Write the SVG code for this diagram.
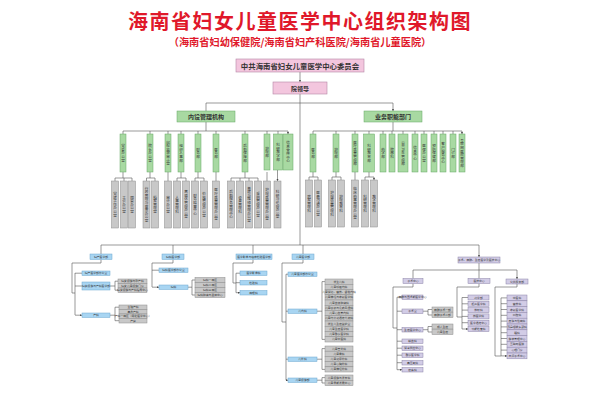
<svg xmlns="http://www.w3.org/2000/svg" width="600" height="400" viewBox="0 0 600 400">
<style>
.c{fill:none;stroke:#555;stroke-width:.6}
.pk{fill:#f3c6de;stroke:#b585a6;stroke-width:.6}
.gr{fill:#a8d9a2;stroke:#66a865;stroke-width:.5}
.gy{fill:#c8c8c8;stroke:#8c8c8c;stroke-width:.5}
.bl{fill:#a8d5f2;stroke:#6ea8cf;stroke-width:.5}
.pu{fill:#d2cce6;stroke:#8b84a8;stroke-width:.5}
text{font-family:"Noto Sans CJK SC","Noto Sans",sans-serif;fill:#333;text-anchor:middle;dominant-baseline:central}
.ti{fill:#e0182a;font-weight:bold;dominant-baseline:auto}
.v{writing-mode:vertical-rl;font-size:3.6px}
.s{font-size:2.8px}
.m{font-size:6px;font-weight:bold}
</style>
<defs>
<marker id="a" viewBox="0 0 6 6" refX="6" refY="3" markerUnits="userSpaceOnUse" markerWidth="2.4" markerHeight="2.4" orient="auto"><path d="M0,0L6,3L0,6z" fill="#444"/></marker>
</defs>
<rect width="600" height="400" fill="#fff"/>
<text class="ti" x="300" y="29" font-size="20" letter-spacing="1.5">海南省妇女儿童医学中心组织架构图</text>
<text class="ti" x="300" y="46" font-size="10.2">（海南省妇幼保健院/海南省妇产科医院/海南省儿童医院）</text>

<g id="connectors">
<path class="c" d="M300,72V82" marker-end="url(#a)"/>
<path class="c" d="M300,94V245M206,103H393"/>
<path class="c" d="M206,103V111M393,103V111" marker-end="url(#a)"/>
<path class="c" d="M206,122V131M123,131H288M393,122V131M313,131H462"/>
<path class="c" marker-end="url(#a)" d="M123,131V134M150,131V134M168,131V134M181,131V134M198,131V134M216,131V134M245,131V134M267,131V134M278,131V134M288,131V134"/>
<path class="c" marker-end="url(#a)" d="M313,131V134M336,131V134M355,131V134M369,131V134M383,131V134M392,131V134M403,131V134M415,131V134M424,131V134M434,131V134M443,131V134M453,131V134M462,131V134"/>
<path class="c" d="M123,172V178M115,178H132M150,172V178M146.5,178H155M181,172V178M177,178H186M198,172V178M195,178H204M245,172V178M231,178H258"/>
<path class="c" marker-end="url(#a)" d="M115,178V181M124,178V181M132,178V181M146.5,178V181M155,178V181M168,172V181M177,178V181M186,178V181M195,178V181M204,178V181M216,172V181M231,178V181M240,178V181M249,178V181M258,178V181M267,172V181M277.5,170V181"/>
<path class="c" d="M313,172V177M309,177H318M336,172V177M332,177H341M369,172V177M365,177H374"/>
<path class="c" marker-end="url(#a)" d="M309,177V180M318,177V180M332,177V180M341,177V180M355,172V180M365,177V180M374,177V180"/>
<path class="c" d="M101,245H479"/>
<path class="c" marker-end="url(#a)" d="M101,245V254M173,245V254M253,245V254M303,245V254M479,245V257"/>
<path class="c" d="M101,259.5V263H72V293H75M75,273V315"/>
<path class="c" marker-end="url(#a)" d="M75,273.2H82M75,286H82M75,315.2H82"/>
<path class="c" d="M110,286H115M118,281.2H115V290.2H118M110,315.2H115M119,307.2H115V320.7H119"/>
<path class="c" d="M173,259.5V263H152V287"/>
<path class="c" marker-end="url(#a)" d="M152,270.2H159M152,287.2H159"/>
<path class="c" d="M188,287.2H192M195,280H192V295H195"/>
<path class="c" d="M253,259.5V263H233V283H236M236,273.2V292.7"/>
<path class="c" marker-end="url(#a)" d="M236,273.2H240M236,282.7H240M236,292.7H240"/>
<path class="c" d="M303,259.5V263H282V322H286M286,274.2V380.2"/>
<path class="c" marker-end="url(#a)" d="M286,274.2H288M286,311.2H288M286,359.2H288M286,380.2H288"/>
<path class="c" d="M317,311.2H322M325,281.6H322V339.4H325M317,359.2H322M325,348.6H322V369.4H325M317,380.2H322M325,377.6H322V383H325"/>
<path class="c" d="M479,263V270M413,270H517"/>
<path class="c" marker-end="url(#a)" d="M413,270V278.5M479,270V278.5M517,270V279"/>
<path class="c" d="M413,283.5V287H393V328H397M397,297.2V369.7"/>
<path class="c" marker-end="url(#a)" d="M397,297.2H402M397,311.2H402M397,329.7H402M397,341.2H402M397,348.2H402M397,355.2H402M397,362.7H402M397,369.7H402"/>
<path class="c" d="M423,311.2H428M432,309.5H428V315H432M423,329.7H428M432,326.5H428V332H432"/>
<path class="c" d="M479,283.5V287H457V317H462M462,297.5V329"/>
<path class="c" marker-end="url(#a)" d="M462,297.5H468M462,303.8H468M462,310.1H468M462,316.4H468M462,322.7H468M462,329H468"/>
<path class="c" d="M517,284V287H495V356H501M501,297.9V355.9"/>
<path class="c" marker-end="url(#a)" d="M501,297.9H507M501,303.7H507M501,309.5H507M501,315.3H507M501,321.1H507M501,326.9H507M501,332.7H507M501,338.5H507M501,344.3H507M501,350.1H507M501,355.9H507"/>
</g>

<g id="n-party"><rect class="pk" x="236" y="59" width="128" height="13"/><text x="300" y="65.7" font-size="7.4" font-weight="bold">中共海南省妇女儿童医学中心委员会</text></g>
<g id="n-leader"><rect class="pk" x="273" y="82" width="54" height="12"/><text x="300" y="88.2" class="m">院领导</text></g>
<g id="n-admin"><rect class="gr" x="177" y="111" width="58" height="11"/><text x="206" y="116.7" class="m">内设管理机构</text></g>
<g id="n-biz"><rect class="gr" x="364" y="111" width="58" height="11"/><text x="393" y="116.7" class="m">业务职能部门</text></g>

<g id="admin-depts">
<g id="l1"><rect class="gr" x="120" y="134" width="6" height="38"/><text class="v" x="123" y="153">党委办公室</text></g>
<g id="l2"><rect class="gr" x="147" y="134" width="6" height="38"/><text class="v" x="150" y="153">院长办公室</text></g>
<g id="l3"><rect class="gr" x="165" y="134" width="6" height="38"/><text class="v" x="168" y="153">纪检监察审计室</text></g>
<g id="l4"><rect class="gr" x="178" y="134" width="6" height="38"/><text class="v" x="181" y="153">组织人事部</text></g>
<g id="l5"><rect class="gr" x="195" y="134" width="6" height="38"/><text class="v" x="198" y="153">财务部</text></g>
<g id="l6"><rect class="gr" x="213" y="134" width="6" height="38"/><text class="v" x="216" y="153">医务部</text></g>
<g id="l7"><rect class="gr" x="242" y="134" width="6" height="38"/><text class="v" x="245" y="153">后勤保障部</text></g>
<g id="l8"><rect class="gr" x="264" y="134" width="6" height="36"/><text class="v" x="267" y="152">护理部</text></g>
<g id="l9"><rect class="gr" x="273.5" y="134" width="9" height="36"/><text class="v" x="278" y="152">科研教学部</text></g>
<g id="l10"><rect class="gr" x="283" y="134" width="10" height="36"/><text class="v" x="288" y="152">信息宣传中心</text></g>
</g>
<g id="admin-sub">
<g><rect class="gy" x="111.5" y="181" width="7" height="47"/><text class="v" x="115" y="204.5">党建工作办公室</text></g>
<g><rect class="gy" x="120.5" y="181" width="7" height="47"/><text class="v" x="124" y="204.5">工会办公室</text></g>
<g><rect class="gy" x="128.5" y="181" width="7" height="47"/><text class="v" x="132" y="204.5">团委办公室</text></g>
<g><rect class="gy" x="143" y="181" width="7" height="47"/><text class="v" x="146.5" y="204.5">行政管理与督查办公室</text></g>
<g><rect class="gy" x="151.5" y="181" width="7" height="47"/><text class="v" x="155" y="204.5">档案管理室</text></g>
<g><rect class="gy" x="164.5" y="181" width="7" height="47"/><text class="v" x="168" y="204.5">审计办公室</text></g>
<g><rect class="gy" x="173.5" y="181" width="7" height="47"/><text class="v" x="177" y="204.5">人事管理科</text></g>
<g><rect class="gy" x="182.5" y="181" width="7" height="47"/><text class="v" x="186" y="204.5">离退休管理办公室</text></g>
<g><rect class="gy" x="191.5" y="181" width="7" height="47"/><text class="v" x="195" y="204.5">财务结算中心</text></g>
<g><rect class="gy" x="200.5" y="181" width="7" height="47"/><text class="v" x="204" y="204.5">价格管理办公室</text></g>
<g><rect class="gy" x="212.5" y="181" width="7" height="47"/><text class="v" x="216" y="204.5">医疗质量管理办公室</text></g>
<g><rect class="gy" x="227.5" y="181" width="7" height="47"/><text class="v" x="231" y="204.5">后勤服务管理中心</text></g>
<g><rect class="gy" x="236.5" y="181" width="7" height="47"/><text class="v" x="240" y="204.5">设备管理科</text></g>
<g><rect class="gy" x="245.5" y="181" width="7" height="47"/><text class="v" x="249" y="204.5">基建与维修管理办公室</text></g>
<g><rect class="gy" x="254.5" y="181" width="7" height="47"/><text class="v" x="258" y="204.5">采购管理办公室</text></g>
<g><rect class="gy" x="263.5" y="181" width="7" height="47"/><text class="v" x="267" y="204.5">护理质量管理办公室</text></g>
<g><rect class="gy" x="274" y="181" width="7" height="47"/><text class="v" x="277.5" y="204.5">科研与伦理办公室</text></g>
</g>

<g id="biz-depts">
<g id="r1"><rect class="gr" x="310" y="134" width="6" height="38"/><text class="v" x="313" y="153">医务部</text></g>
<g id="r2"><rect class="gr" x="333" y="134" width="6" height="38"/><text class="v" x="336" y="153">护理部</text></g>
<g id="r3"><rect class="gr" x="352" y="134" width="6" height="38"/><text class="v" x="355" y="153">医疗质量管理部</text></g>
<g id="r4"><rect class="gr" x="363.5" y="134" width="11" height="38"/><text class="v" x="369" y="153">科研教育部</text></g>
<g id="r5"><rect class="gr" x="380" y="134" width="6" height="38"/><text class="v" x="383" y="153">药学部</text></g>
<g id="r6"><rect class="gr" x="389" y="134" width="6" height="38"/><text class="v" x="392" y="153">院感科</text></g>
<g id="r7"><rect class="gr" x="398" y="134" width="10" height="38"/><text class="v" x="403" y="153">公共卫生管理部</text></g>
<g id="r8"><rect class="gr" x="412" y="134" width="6" height="38"/><text class="v" x="415" y="153">信息中心</text></g>
<g id="r9"><rect class="gr" x="421" y="134" width="6" height="38"/><text class="v" x="424" y="153">医保办公室</text></g>
<g id="r10"><rect class="gr" x="431" y="134" width="6" height="38"/><text class="v" x="434" y="153">预防保健部</text></g>
<g id="r11"><rect class="gr" x="440" y="134" width="6" height="38"/><text class="v" x="443" y="153">客户服务中心</text></g>
<g id="r12"><rect class="gr" x="450" y="134" width="6" height="38"/><text class="v" x="453" y="153">门诊部</text></g>
<g id="r13"><rect class="gr" x="459" y="134" width="6" height="38"/><text class="v" x="462" y="153">互联网医院管理部</text></g>
</g>
<g id="biz-sub">
<g><rect class="gy" x="305.5" y="180" width="7" height="47"/><text class="v" x="309" y="203.5">病案管理科</text></g>
<g><rect class="gy" x="314.5" y="180" width="7" height="47"/><text class="v" x="318" y="203.5">医患沟通办公室</text></g>
<g><rect class="gy" x="328.5" y="180" width="7" height="47"/><text class="v" x="332" y="203.5">护理质量管理科</text></g>
<g><rect class="gy" x="337.5" y="180" width="7" height="47"/><text class="v" x="341" y="203.5">护理教育科</text></g>
<g><rect class="gy" x="351.5" y="180" width="7" height="47"/><text class="v" x="355" y="203.5">临床药事管理办公室</text></g>
<g><rect class="gy" x="361.5" y="180" width="7" height="47"/><text class="v" x="365" y="203.5">科研管理科</text></g>
<g><rect class="gy" x="370.5" y="180" width="7" height="47"/><text class="v" x="374" y="203.5">教学管理科</text></g>
</g>

<g id="sec-a">
<g id="a0"><rect class="bl" x="90" y="254" width="22" height="5.5"/><text class="s" x="101" y="256.8">妇产医学部</text></g>
<g id="a1"><rect class="bl" x="82" y="271" width="28" height="4.5"/><text class="s" x="96" y="273.3">妇产医学部办公室</text></g>
<g id="a2"><rect class="bl" x="82" y="282" width="28" height="8"/><text class="s" x="96" y="286">妇女保健与产科医学部</text></g>
<g id="a3"><rect class="bl" x="82" y="313" width="28" height="4.5"/><text class="s" x="96" y="315.3">产科</text></g>
<g><rect class="gy" x="118" y="279" width="29" height="4.5"/><text class="s" x="132.5" y="281.3">妇女保健与孕产科</text></g>
<g><rect class="gy" x="118" y="283.5" width="29" height="4.5"/><text class="s" x="132.5" y="285.8">妇女儿童保健门诊</text></g>
<g><rect class="gy" x="118" y="288" width="29" height="4.5"/><text class="s" x="132.5" y="290.3">妇女保健与产科指导中心</text></g>
<g><rect class="gy" x="119" y="305" width="28" height="4.5"/><text class="s" x="133" y="307.3">生殖产科</text></g>
<g><rect class="gy" x="119" y="309.5" width="28" height="4.5"/><text class="s" x="133" y="311.8">高危产科</text></g>
<g><rect class="gy" x="119" y="314" width="28" height="4.5"/><text class="s" x="133" y="316.3">产科一病区（母胎医学中心）</text></g>
<g><rect class="gy" x="119" y="318.5" width="28" height="4.5"/><text class="s" x="133" y="320.8">产房</text></g>
</g>

<g id="sec-b">
<g id="b0"><rect class="bl" x="162" y="254" width="22" height="5.5"/><text class="s" x="173" y="256.8">妇科医学部</text></g>
<g id="b1"><rect class="bl" x="159" y="268" width="29" height="4.5"/><text class="s" x="173.5" y="270.3">妇科医学部办公室</text></g>
<g id="b2"><rect class="bl" x="159" y="285" width="29" height="4.5"/><text class="s" x="173.5" y="287.3">妇科</text></g>
<g><rect class="gy" x="195" y="277.5" width="30" height="5"/><text class="s" x="210" y="280">妇科一病区</text></g>
<g><rect class="gy" x="195" y="282.5" width="30" height="5"/><text class="s" x="210" y="285">妇科二病区</text></g>
<g><rect class="gy" x="195" y="287.5" width="30" height="5"/><text class="s" x="210" y="290">妇科三病区</text></g>
<g><rect class="gy" x="195" y="292.5" width="30" height="5"/><text class="s" x="210" y="295">妇科肿瘤与盆底中心</text></g>
</g>

<g id="sec-c">
<g id="c0"><rect class="bl" x="236" y="254" width="36" height="5.5"/><text class="s" x="254" y="256.8">医学影像与临床检验医学部</text></g>
<g id="c1"><rect class="bl" x="240" y="271" width="27" height="4.5"/><text class="s" x="253.5" y="273.3">医学影像科</text></g>
<g id="c2"><rect class="bl" x="240" y="280.5" width="27" height="4.5"/><text class="s" x="253.5" y="282.8">检验科</text></g>
<g id="c3"><rect class="bl" x="240" y="290.5" width="27" height="4.5"/><text class="s" x="253.5" y="292.8">病理科</text></g>
</g>

<g id="sec-d">
<g id="d0"><rect class="bl" x="292" y="254" width="22" height="5.5"/><text class="s" x="303" y="256.8">儿童医学部</text></g>
<g id="d1"><rect class="bl" x="288" y="272" width="29" height="4.5"/><text class="s" x="302.5" y="274.3">儿童医学部办公室</text></g>
<g id="d2"><rect class="bl" x="288" y="309" width="29" height="4.5"/><text class="s" x="302.5" y="311.3">儿内科</text></g>
<g id="d3"><rect class="bl" x="288" y="357" width="29" height="4.5"/><text class="s" x="302.5" y="359.3">儿外科</text></g>
<g id="d4"><rect class="bl" x="288" y="378" width="29" height="4.5"/><text class="s" x="302.5" y="380.3">儿童保健部</text></g>
<g><rect class="gy" x="325" y="279" width="28" height="5.25"/><text class="s" x="339" y="281.6">新生儿科</text></g>
<g><rect class="gy" x="325" y="284.25" width="28" height="5.25"/><text class="s" x="339" y="286.9">儿童呼吸内科</text></g>
<g><rect class="gy" x="325" y="289.5" width="28" height="5.25"/><text class="s" x="339" y="292.1">儿童消化、营养、肾脏内科</text></g>
<g><rect class="gy" x="325" y="294.75" width="28" height="5.25"/><text class="s" x="339" y="297.4">儿童神经与康复医学科</text></g>
<g><rect class="gy" x="325" y="300" width="28" height="5.25"/><text class="s" x="339" y="302.6">儿童血液肿瘤科</text></g>
<g><rect class="gy" x="325" y="305.25" width="28" height="5.25"/><text class="s" x="339" y="307.9">儿童感染与免疫风湿科</text></g>
<g><rect class="gy" x="325" y="310.5" width="28" height="5.25"/><text class="s" x="339" y="313.1">儿童心血管内科</text></g>
<g><rect class="gy" x="325" y="315.75" width="28" height="5.25"/><text class="s" x="339" y="318.4">儿童内分泌遗传代谢科</text></g>
<g><rect class="gy" x="325" y="321" width="28" height="5.25"/><text class="s" x="339" y="323.6">新生儿重症监护室</text></g>
<g><rect class="gy" x="325" y="326.25" width="28" height="5.25"/><text class="s" x="339" y="328.9">儿童重症医学科</text></g>
<g><rect class="gy" x="325" y="331.5" width="28" height="5.25"/><text class="s" x="339" y="334.1">儿童急诊医学科</text></g>
<g><rect class="gy" x="325" y="336.75" width="28" height="5.25"/><text class="s" x="339" y="339.4">儿童中医科</text></g>
<g><rect class="gy" x="325" y="346" width="28" height="5.2"/><text class="s" x="339" y="348.6">儿童普外科</text></g>
<g><rect class="gy" x="325" y="351.2" width="28" height="5.2"/><text class="s" x="339" y="353.8">儿童骨科</text></g>
<g><rect class="gy" x="325" y="356.4" width="28" height="5.2"/><text class="s" x="339" y="359">儿童泌尿外科</text></g>
<g><rect class="gy" x="325" y="361.6" width="28" height="5.2"/><text class="s" x="339" y="364.2">儿童心胸外科</text></g>
<g><rect class="gy" x="325" y="366.8" width="28" height="5.2"/><text class="s" x="339" y="369.4">儿童神经外科</text></g>
<g><rect class="gy" x="325" y="375" width="28" height="5.3"/><text class="s" x="339" y="377.6">儿童保健与发育科</text></g>
<g><rect class="gy" x="325" y="380.3" width="28" height="5.3"/><text class="s" x="339" y="383">儿童早期发展中心</text></g>
</g>

<g id="sec-e">
<g id="e0"><rect class="pu" x="458" y="257" width="42" height="6"/><text class="s" x="479" y="260">手术、麻醉、重症医学及医技中心</text></g>
<g id="e1"><rect class="pu" x="403" y="278.5" width="20" height="5"/><text class="s" x="413" y="281">手术中心</text></g>
<g id="e2"><rect class="pu" x="468" y="278.5" width="22" height="5"/><text class="s" x="479" y="281">医技中心</text></g>
<g id="e3"><rect class="pu" x="506" y="279" width="22" height="5"/><text class="s" x="517" y="281.5">公共服务部</text></g>
<g><rect class="pu" x="402" y="295" width="21" height="4.5"/><text class="s" x="412.5" y="297.3">麻醉与围术期医学中心</text></g>
<g><rect class="pu" x="402" y="309" width="21" height="4.5"/><text class="s" x="412.5" y="311.3">手术室</text></g>
<g><rect class="pu" x="402" y="327.5" width="21" height="4.5"/><text class="s" x="412.5" y="329.8">重症医学中心</text></g>
<g><rect class="pu" x="402" y="339" width="21" height="4.5"/><text class="s" x="412.5" y="341.3">输血科</text></g>
<g><rect class="pu" x="402" y="346" width="21" height="4.5"/><text class="s" x="412.5" y="348.3">消毒供应中心</text></g>
<g><rect class="pu" x="402" y="353" width="21" height="4.5"/><text class="s" x="412.5" y="355.3">急诊医学科</text></g>
<g><rect class="pu" x="402" y="360.5" width="21" height="4.5"/><text class="s" x="412.5" y="362.8">高压氧科</text></g>
<g><rect class="pu" x="402" y="367.5" width="21" height="4.5"/><text class="s" x="412.5" y="369.8">疼痛科</text></g>
<g><rect class="gy" x="432" y="307" width="21" height="5"/><text class="s" x="442.5" y="309.5">麻醉手术一部</text></g>
<g><rect class="gy" x="432" y="312.5" width="21" height="5"/><text class="s" x="442.5" y="315">麻醉手术二部</text></g>
<g><rect class="gy" x="432" y="324" width="21" height="5"/><text class="s" x="442.5" y="326.5">成人重症</text></g>
<g><rect class="gy" x="432" y="329.5" width="21" height="5"/><text class="s" x="442.5" y="332">儿童重症</text></g>
<g><rect class="pu" x="468" y="295" width="21" height="5"/><text class="s" x="478.5" y="297.5">药学部</text></g>
<g><rect class="pu" x="468" y="301.3" width="21" height="5"/><text class="s" x="478.5" y="303.8">超声医学科</text></g>
<g><rect class="pu" x="468" y="307.6" width="21" height="5"/><text class="s" x="478.5" y="310.1">放射科</text></g>
<g><rect class="pu" x="468" y="313.9" width="21" height="5"/><text class="s" x="478.5" y="316.4">核医学科</text></g>
<g><rect class="pu" x="468" y="320.2" width="21" height="5"/><text class="s" x="478.5" y="322.7">医学遗传中心</text></g>
<g><rect class="pu" x="468" y="326.5" width="21" height="5"/><text class="s" x="478.5" y="329">功能检查科</text></g>
<g><rect class="pu" x="507" y="295" width="20" height="5.8"/><text class="s" x="517" y="297.9">中医科</text></g>
<g><rect class="pu" x="507" y="300.8" width="20" height="5.8"/><text class="s" x="517" y="303.7">营养科</text></g>
<g><rect class="pu" x="507" y="306.6" width="20" height="5.8"/><text class="s" x="517" y="309.5">康复医学科</text></g>
<g><rect class="pu" x="507" y="312.4" width="20" height="5.8"/><text class="s" x="517" y="315.3">口腔科</text></g>
<g><rect class="pu" x="507" y="318.2" width="20" height="5.8"/><text class="s" x="517" y="321.1">皮肤与性病科</text></g>
<g><rect class="pu" x="507" y="324" width="20" height="5.8"/><text class="s" x="517" y="326.9">耳鼻咽喉头颈科</text></g>
<g><rect class="pu" x="507" y="329.8" width="20" height="5.8"/><text class="s" x="517" y="332.7">眼科</text></g>
<g><rect class="pu" x="507" y="335.6" width="20" height="5.8"/><text class="s" x="517" y="338.5">健康管理中心</text></g>
<g><rect class="pu" x="507" y="341.4" width="20" height="5.8"/><text class="s" x="517" y="344.3">互联网医院</text></g>
<g><rect class="pu" x="507" y="347.2" width="20" height="5.8"/><text class="s" x="517" y="350.1">心理门诊</text></g>
<g><rect class="pu" x="507" y="353" width="20" height="5.8"/><text class="s" x="517" y="355.9">日间手术中心</text></g>
</g>
</svg>
